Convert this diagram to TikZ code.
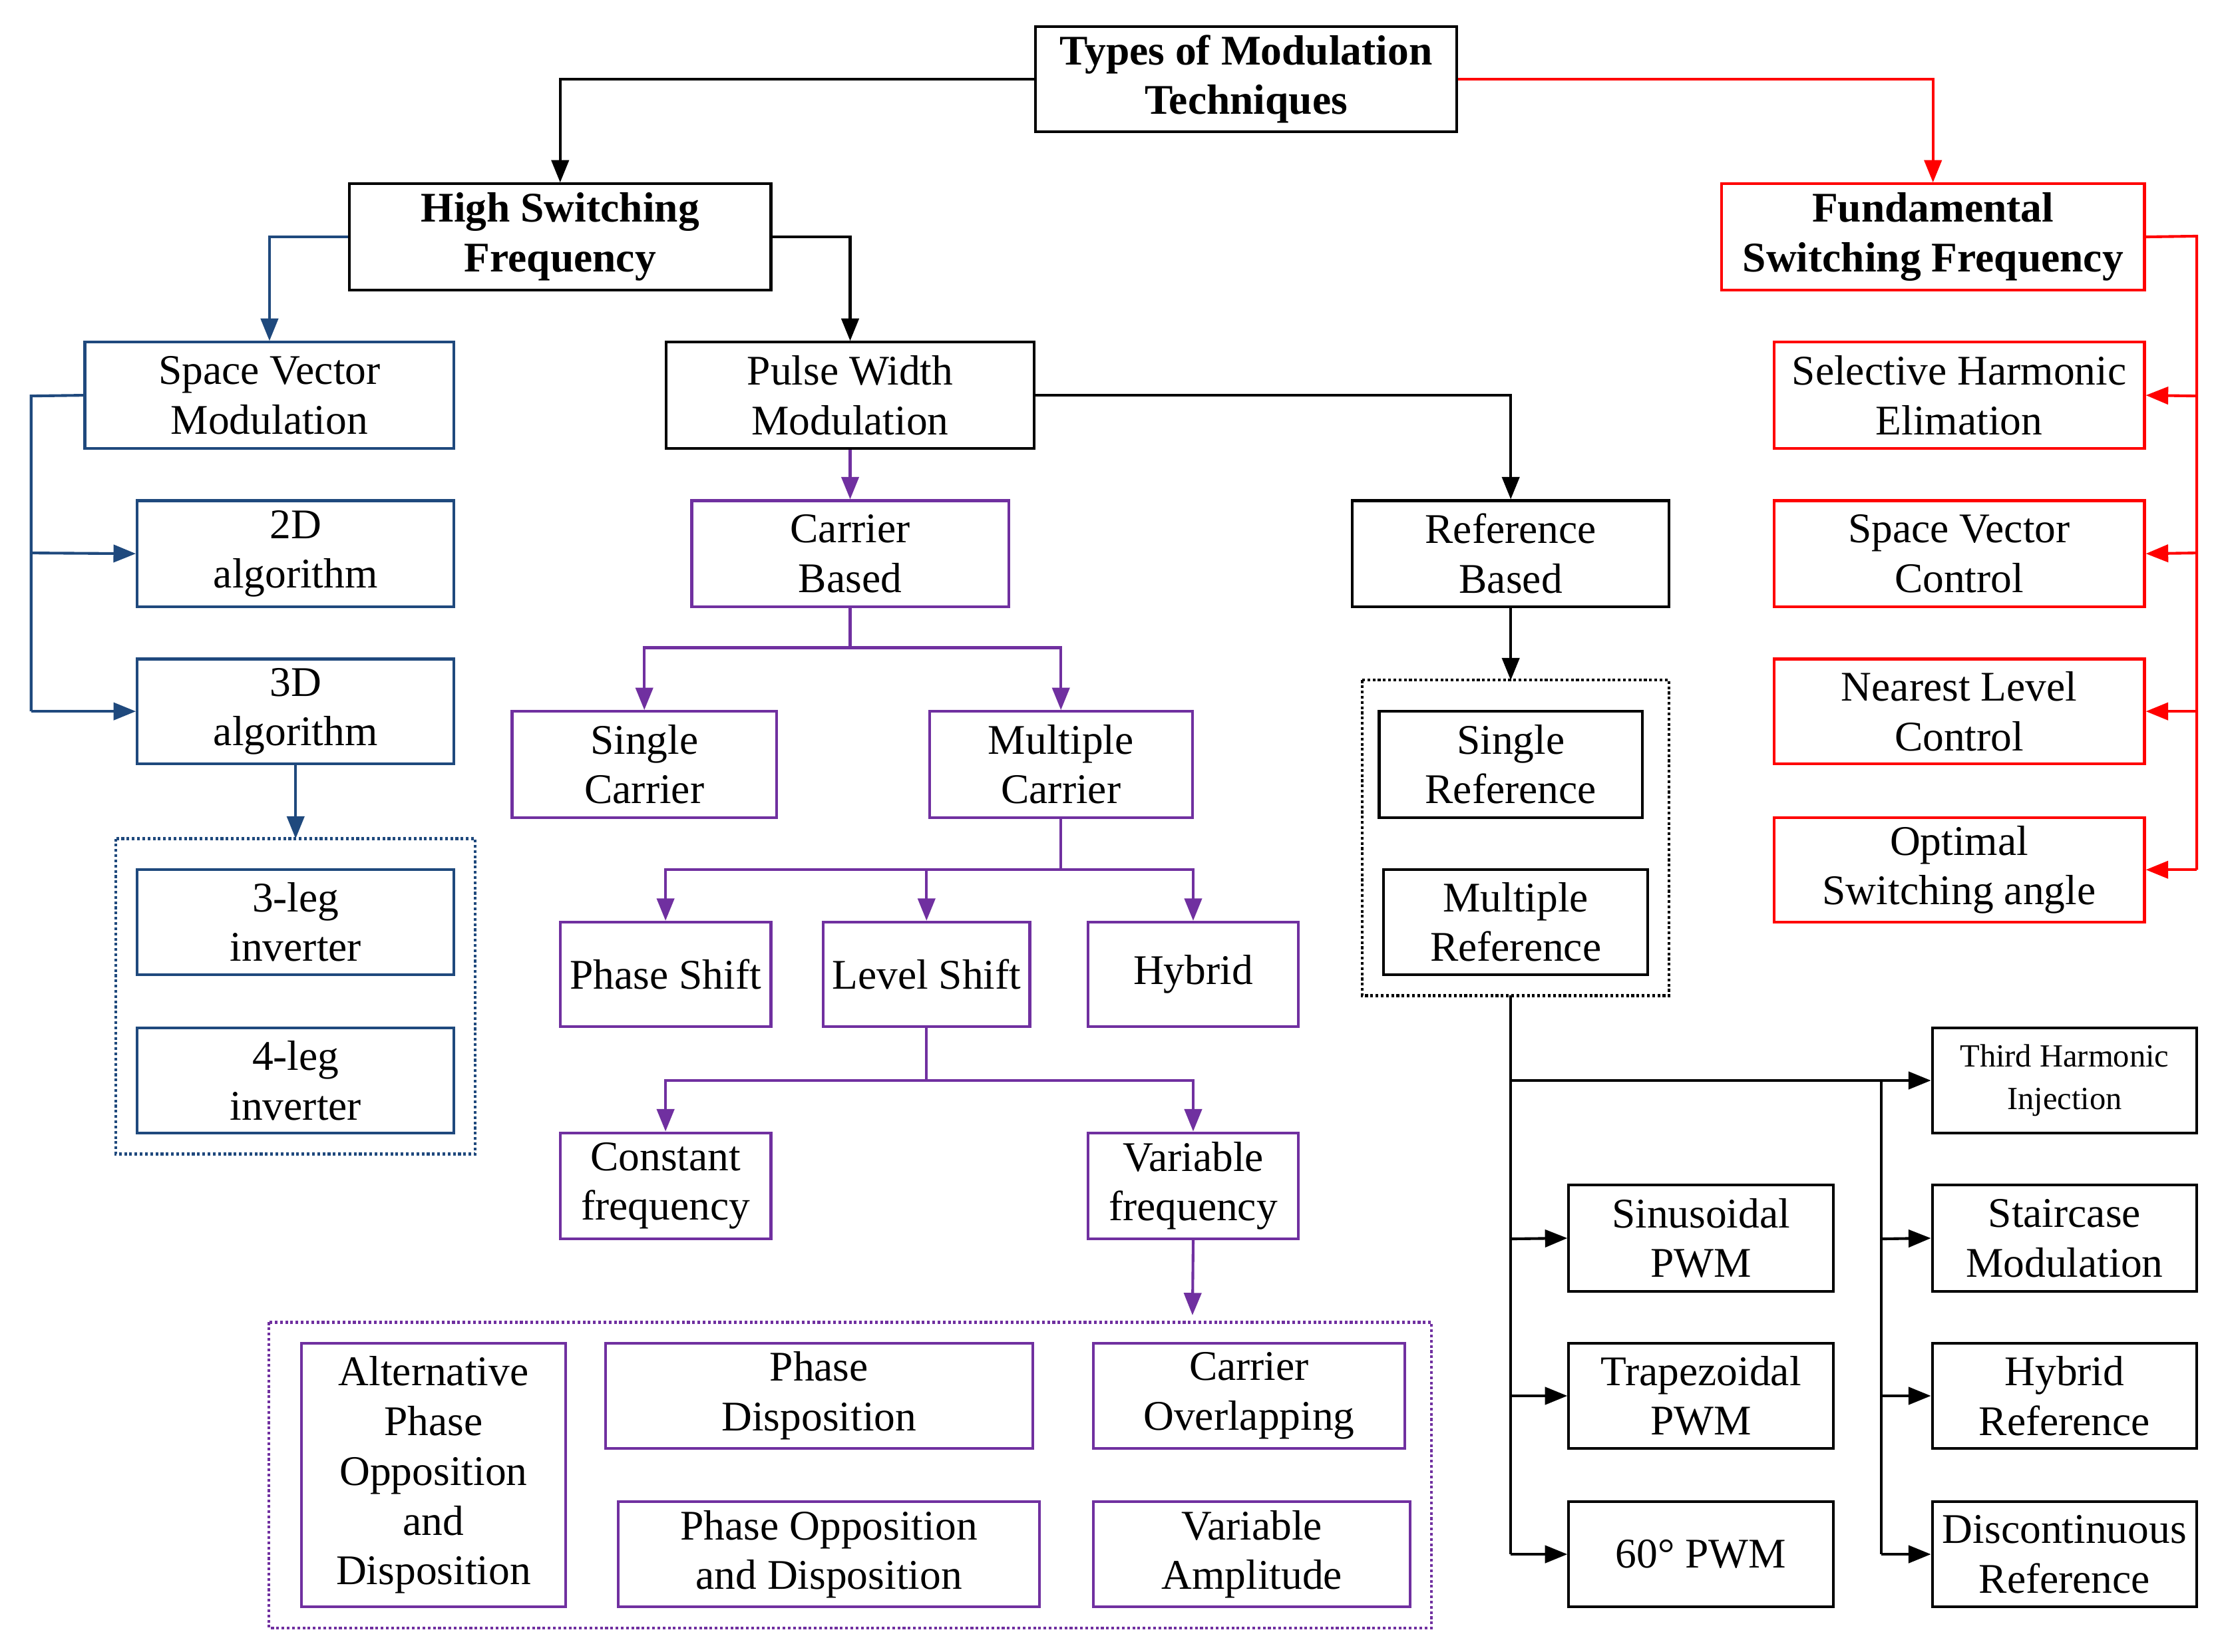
\documentclass[tikz,border=0pt]{standalone}
\usepackage{fontspec}
\setmainfont{Liberation Serif}
\usetikzlibrary{arrows.meta}
\definecolor{bl}{RGB}{31,73,125}
\definecolor{pu}{RGB}{112,48,160}
\newcommand\bx[7]{\node[box,#6,minimum width={(#4-#2)*0.02cm},minimum height={(#5-#3)*0.02cm}] (#1) at ({(#2+#4)/2},{(#3+#5)/2}) {#7};}
\newcommand\dbx[5]{\draw[#5,densely dotted,line width=1.1pt] (#1,#2) rectangle (#3,#4);}
\begin{document}
\begin{tikzpicture}[x=0.02cm,y=-0.02cm,
 box/.style={draw,line width=1.1pt,inner sep=0pt,align=center,font=\fontsize{17}{20}\selectfont},
 K/.style={draw=black},B/.style={draw=bl},P/.style={draw=pu},R/.style={draw=red},
 bf/.style={font=\fontsize{17}{20}\selectfont\bfseries},
 sm/.style={font=\fontsize{13}{17}\selectfont},
 ar/.style={line width=1.1pt,-{Triangle[length=9pt,width=7pt]}},
 ln/.style={line width=1.1pt}]
\useasboundingbox (0,0) rectangle (1568,1168);
\bx{top}{732}{19}{1030}{93}{K,bf}{Types of Modulation\\Techniques}
\bx{hsf}{247}{130}{545}{205}{K,bf}{High Switching\\Frequency}
\bx{fsf}{1217}{130}{1516}{205}{R,bf}{Fundamental\\Switching Frequency}
\bx{svm}{60}{242}{321}{317}{B}{Space Vector\\Modulation}
\bx{d2}{97}{354}{321}{429}{B}{2D\\algorithm}
\bx{d3}{97}{466}{321}{540}{B}{3D\\algorithm}
\dbx{82}{593}{336}{816}{bl}
\coordinate (dbn) at (209,593);
\bx{l3}{97}{615}{321}{689}{B}{3-leg\\inverter}
\bx{l4}{97}{727}{321}{801}{B}{4-leg\\inverter}
\bx{pwm}{471}{242}{731}{317}{K}{Pulse Width\\Modulation}
\bx{cb}{489}{354}{713}{429}{P}{Carrier\\Based}
\bx{rb}{956}{354}{1180}{429}{K}{Reference\\Based}
\dbx{963}{481}{1180}{704}{black}
\coordinate (dkn) at (1068,481);
\coordinate (dks) at (1068,704);
\bx{sr}{975}{503}{1161}{578}{K}{Single\\Reference}
\bx{mr}{978}{615}{1165}{689}{K}{Multiple\\Reference}
\bx{sc}{362}{503}{549}{578}{P}{Single\\Carrier}
\bx{mc}{657}{503}{843}{578}{P}{Multiple\\Carrier}
\bx{ps}{396}{652}{545}{726}{P}{Phase Shift}
\bx{ls}{582}{652}{728}{726}{P}{Level Shift}
\bx{hy}{769}{652}{918}{726}{P}{Hybrid}
\bx{cf}{396}{801}{545}{876}{P}{Constant\\frequency}
\bx{vf}{769}{801}{918}{876}{P}{Variable\\frequency}
\dbx{190}{935}{1012}{1151}{pu}
\coordinate (dpn) at (843,930);
\bx{apod}{213}{950}{400}{1136}{P}{Alternative\\Phase\\Opposition\\and\\Disposition}
\bx{pd}{428}{950}{730}{1024}{P}{Phase\\Disposition}
\bx{co}{773}{950}{993}{1024}{P}{Carrier\\Overlapping}
\bx{pod}{437}{1062}{735}{1136}{P}{Phase Opposition\\and Disposition}
\bx{va}{773}{1062}{997}{1136}{P}{Variable\\Amplitude}
\bx{she}{1254}{242}{1516}{317}{R}{Selective Harmonic\\Elimation}
\bx{svc}{1254}{354}{1516}{429}{R}{Space Vector\\Control}
\bx{nlc}{1254}{466}{1516}{540}{R}{Nearest Level\\Control}
\bx{osa}{1254}{578}{1516}{652}{R}{Optimal\\Switching angle}
\bx{thi}{1366}{727}{1553}{801}{K,sm}{Third Harmonic\\Injection}
\bx{stm}{1366}{838}{1553}{913}{K}{Staircase\\Modulation}
\bx{hr}{1366}{950}{1553}{1024}{K}{Hybrid\\Reference}
\bx{dr}{1366}{1062}{1553}{1136}{K}{Discontinuous\\Reference}
\bx{sin}{1109}{838}{1296}{913}{K}{Sinusoidal\\PWM}
\bx{tra}{1109}{950}{1296}{1024}{K}{Trapezoidal\\PWM}
\bx{p60}{1109}{1062}{1296}{1136}{K}{60° PWM}
% top
\draw[ar] (top.west) -| (hsf.north);
\draw[ar,red] (top.east) -| (fsf.north);
\draw[ar,bl] (hsf.west) -| (svm.north);
\draw[ar] (hsf.east) -| (pwm.north);
% SVM
\draw[ln,bl] (svm.west) -- (22,280) -- (22,503);
\draw[ar,bl] (22,391) -- (d2.west);
\draw[ar,bl] (22,503) -- (d3.west);
\draw[ar,bl] (d3.south) -- (dbn);
% FSF
\draw[ln,red] (fsf.east) -- (1553,167) -- (1553,615);
\draw[ar,red] (1553,280) -- (she.east);
\draw[ar,red] (1553,391) -- (svc.east);
\draw[ar,red] (1553,503) -- (nlc.east);
\draw[ar,red] (1553,615) -- (osa.east);
% PWM
\draw[ar,pu] (pwm.south) -- (cb.north);
\draw[ar] (pwm.east) -| (rb.north);
\draw[ln,pu] (cb.south) -- (601,458);
\draw[ar,pu] (601,458) -| (sc.north);
\draw[ar,pu] (601,458) -| (mc.north);
\draw[ln,pu] (mc.south) -- (750,615);
\draw[ar,pu] (750,615) -| (ps.north);
\draw[ar,pu] (750,615) -| (ls.north);
\draw[ar,pu] (750,615) -| (hy.north);
\draw[ln,pu] (ls.south) -- (655,764);
\draw[ar,pu] (655,764) -| (cf.north);
\draw[ar,pu] (655,764) -| (vf.north);
\draw[ar,pu] (vf.south) -- (dpn);
% Reference
\draw[ar] (rb.south) -- (dkn);
\draw[ln] (dks) -- (1068,1099);
\draw[ar] (1068,876) -- (sin.west);
\draw[ar] (1068,987) -- (tra.west);
\draw[ar] (1068,1099) -- (p60.west);
\draw[ar] (1068,764) -- (thi.west);
\draw[ln] (1330,764) -- (1330,1099);
\draw[ar] (1330,876) -- (stm.west);
\draw[ar] (1330,987) -- (hr.west);
\draw[ar] (1330,1099) -- (dr.west);
\end{tikzpicture}
\end{document}
